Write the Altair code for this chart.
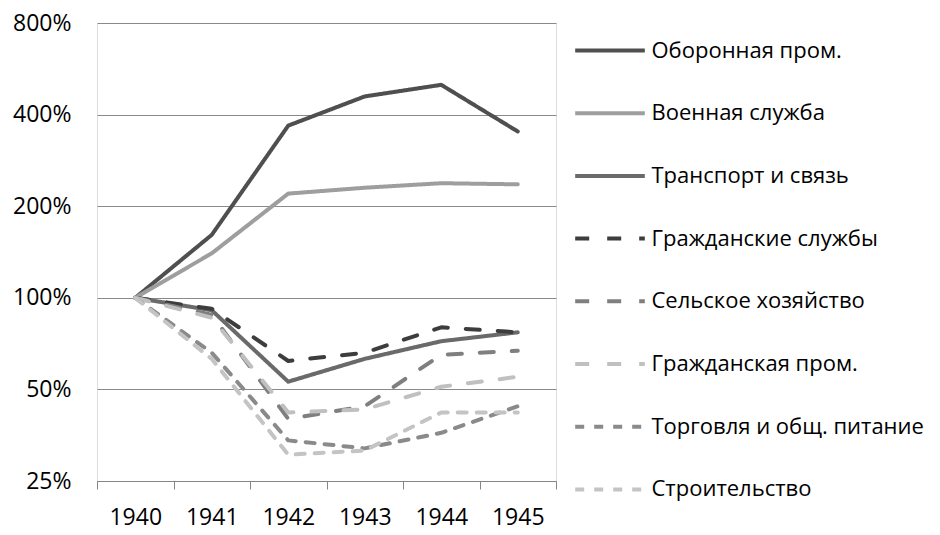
import altair as alt
import pandas as pd

years = ["1940", "1941", "1942", "1943", "1944", "1945"]
series_names = [
    "Оборонная пром.",
    "Военная служба",
    "Транспорт и связь",
    "Гражданские службы",
    "Сельское хозяйство",
    "Гражданская пром.",
    "Торговля и общ. питание",
    "Строительство",
]
defense = [100, 161, 368, 459, 501, 352]
military = [100, 140, 220, 230, 238, 236]
transport = [100, 91, 53, 63, 72, 77]
civil_services = [100, 92, 62, 66, 80, 77]
agriculture = [100, 88, 40, 44, 65, 67]
civil_industry = [100, 86, 42, 43, 51, 55]
trade = [100, 66, 34, 32, 36, 44]
construction = [100, 63, 30.5, 31.5, 42, 42]

all_values = [defense, military, transport, civil_services,
              agriculture, civil_industry, trade, construction]

colors = ["#4f4f4f", "#9e9e9e", "#6a6a6a", "#3d3d3d",
          "#7f7f7f", "#c0c0c0", "#8a8a8a", "#c4c4c4"]
dashes = [[1, 0], [1, 0], [1, 0], [14, 18], [14, 18], [14, 18], [9, 10], [9, 10]]

y_ticks = [25, 50, 100, 200, 400, 800]

rows = []
for name, vals in zip(series_names, all_values):
    for yr, v in zip(years, vals):
        rows.append({"year": yr, "series": name, "value": v})
df = pd.DataFrame(rows)

FONT = "Open Sans"

legend = alt.Legend(
    orient="none",
    legendX=481.5,
    legendY=-4,
    title=None,
    symbolType="M-1.18,0H1.18",
    symbolSize=3481,
    symbolStrokeWidth=4,
    labelFont=FONT,
    labelFontSize=22,
    labelColor="#000000",
    labelOffset=10,
    labelLimit=400,
    rowPadding=19.7,
    padding=0,
)

chart = alt.Chart(df).mark_line(
    strokeWidth=4, strokeCap="round", strokeJoin="round"
).encode(
    x=alt.X(
        "year:O",
        bandPosition=0.5,
        scale=alt.Scale(type="band", paddingInner=0, paddingOuter=0),
        axis=alt.Axis(
            title=None, labelAngle=0, tickBand="extent", grid=False,
            domainColor="#868686", tickColor="#868686", tickSize=8,
            labelFont=FONT, labelFontSize=23, labelColor="#000000",
            labelPadding=17,
        ),
    ),
    y=alt.Y(
        "value:Q",
        scale=alt.Scale(type="log", domain=[25, 800], nice=False),
        axis=alt.Axis(
            title=None, values=y_ticks, labelExpr="datum.value + '%'",
            grid=True, gridColor="#8a8a8a", gridWidth=1,
            domain=False, ticks=False,
            labelFont=FONT, labelFontSize=23, labelColor="#000000",
            labelPadding=26,
        ),
    ),
    color=alt.Color("series:N", scale=alt.Scale(domain=series_names, range=colors),
                    legend=legend),
    strokeDash=alt.StrokeDash("series:N", scale=alt.Scale(domain=series_names, range=dashes),
                              legend=legend),
).properties(
    width=459,
    height=458,
    autosize=alt.AutoSizeParams(type="none"),
    padding={"left": 89, "top": 15, "right": 376, "bottom": 46},
).configure_view(stroke=None).configure(background="white")

chart.save("out.html", embed_options={"renderer": "svg", "actions": False})
